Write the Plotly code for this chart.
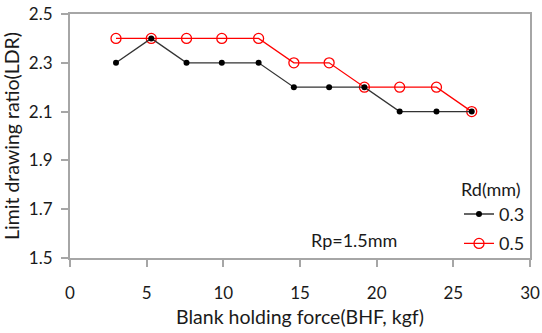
import plotly.graph_objects as go

bhf = [3.0, 5.3, 7.6, 9.9, 12.3, 14.6, 16.9, 19.2, 21.5, 23.9, 26.2]
ldr_03 = [2.3, 2.4, 2.3, 2.3, 2.3, 2.2, 2.2, 2.2, 2.1, 2.1, 2.1]
ldr_05 = [2.4, 2.4, 2.4, 2.4, 2.4, 2.3, 2.3, 2.2, 2.2, 2.2, 2.1]
series_names = ["0.3", "0.5"]
x_ticks = [0, 5, 10, 15, 20, 25, 30]
y_ticks = [1.5, 1.7, 1.9, 2.1, 2.3, 2.5]

FONT = "Lato"
TXT = "#1a1a1a"
AX = "#a6a6a6"

fig = go.Figure()
fig.add_trace(go.Scatter(
    x=bhf, y=ldr_05, name=series_names[1], mode="lines+markers", legendgroup="b", legendrank=2,
    line=dict(color="#ff0000", width=1.3),
    marker=dict(symbol="circle-open", size=10, color="#ff0000", line=dict(width=1.3)),
))
fig.add_trace(go.Scatter(
    x=bhf, y=ldr_03, name=series_names[0], mode="lines+markers", legendgroup="a", legendrank=1,
    line=dict(color="#333333", width=1.3),
    marker=dict(symbol="circle", size=6, color="#000000"),
))

fig.add_annotation(
    x=18.5, y=1.574, xref="x", yref="y", text="Rp=1.5mm", showarrow=False,
    font=dict(family=FONT, size=18, color=TXT),
)

fig.update_layout(
    width=542, height=333,
    margin=dict(l=70, r=12, t=14, b=75),
    plot_bgcolor="white", paper_bgcolor="white",
    font=dict(family=FONT, size=15, color=TXT),
    showlegend=True,
    legend=dict(
        title=dict(text="Rd(mm)", side="top", font=dict(family=FONT, size=18, color=TXT)),
        x=1.0, xanchor="right", y=-0.018, yanchor="bottom",
        bgcolor="rgba(0,0,0,0)", traceorder="grouped",
        font=dict(family=FONT, size=18, color=TXT),
        itemwidth=30, tracegroupgap=3,
    ),
    xaxis=dict(
        range=[0, 30], tickvals=x_ticks, showgrid=False, zeroline=False,
        showline=True, linecolor=AX, linewidth=2, mirror=True, automargin=False,
        ticks="outside", ticklen=7, tickcolor=AX, tickwidth=1.5,
        tickfont=dict(family=FONT, size=17, color=TXT),
        ticklabelstandoff=12,
        title=dict(text="Blank holding force(BHF, kgf)", standoff=8,
                   font=dict(family=FONT, size=19.5, color=TXT)),
    ),
    yaxis=dict(
        range=[1.5, 2.5], tickvals=y_ticks, tickformat=".1f", showgrid=False, zeroline=False,
        showline=True, linecolor=AX, linewidth=2, mirror=True, automargin=False,
        ticks="outside", ticklen=7, tickcolor=AX, tickwidth=1.5,
        tickfont=dict(family=FONT, size=17, color=TXT),
        ticklabelstandoff=5,
        title=dict(text="Limit drawing ratio(LDR)", standoff=5,
                   font=dict(family=FONT, size=19.5, color=TXT)),
    ),
)

fig.write_html("out.html")
